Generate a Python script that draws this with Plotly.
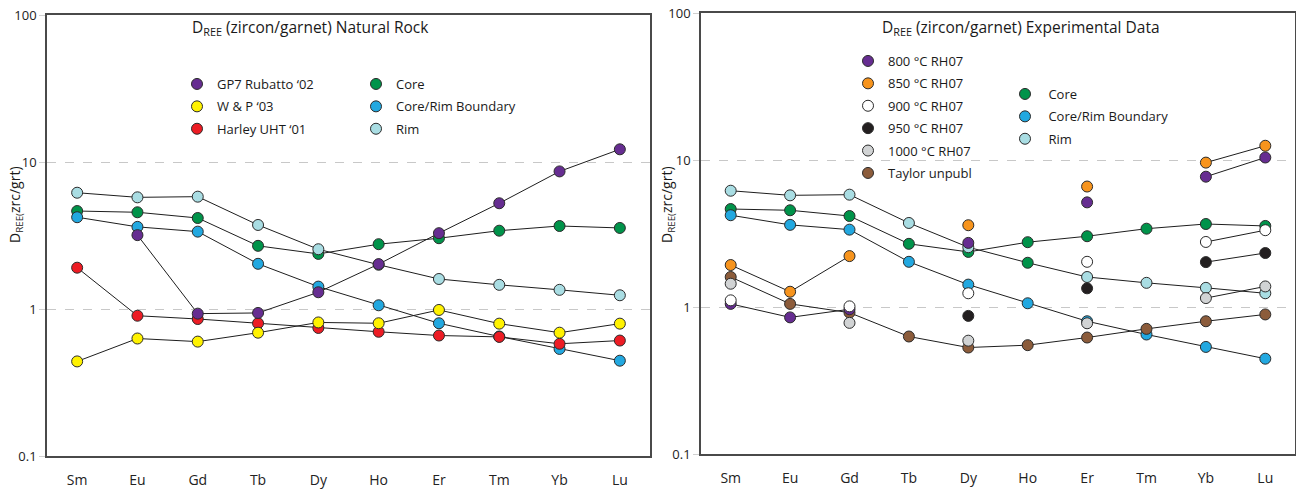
import plotly.graph_objects as go

W, H = 1296, 489

# ---------------- data ----------------
elements = ["Sm", "Eu", "Gd", "Tb", "Dy", "Ho", "Er", "Tm", "Yb", "Lu"]

# natural rock (left panel)
gp7_rubatto02 = [None, 3.18, 0.93, 0.94, 1.30, 2.02, 3.28, 5.24, 8.63, 12.2]
wp03 = [0.44, 0.63, 0.60, 0.69, 0.81, 0.80, 0.985, 0.795, 0.69, 0.795]
harley_uht01 = [1.91, 0.90, 0.855, 0.80, 0.743, 0.70, 0.66, 0.646, 0.58, 0.61]

# zircon zones (both panels)
core = [4.64, 4.55, 4.16, 2.69, 2.37, 2.76, 3.03, 3.41, 3.67, 3.56]
core_rim_boundary = [4.21, 3.62, 3.36, 2.03, 1.42, 1.06, 0.80, 0.65, 0.535, 0.445]
rim = [6.18, 5.75, 5.81, 3.73, 2.55, 2.00, 1.60, 1.46, 1.35, 1.24]

# experimental (right panel)
rh07_800 = [1.05, 0.85, 0.965, None, 2.73, None, 5.15, None, 7.7, 10.4]
rh07_850 = [1.93, 1.27, 2.22, None, 3.6, None, 6.6, None, 9.6, 12.5]
rh07_900 = [1.11, None, 1.01, None, 1.24, None, 2.03, None, 2.77, 3.33]
rh07_950 = [None, None, None, None, 0.87, None, 1.34, None, 2.02, 2.33]
rh07_1000 = [1.44, None, 0.78, None, 0.59, None, 0.775, None, 1.15, 1.38]
taylor_unpubl = [1.60, 1.05, 0.915, 0.63, 0.53, 0.55, 0.62, 0.71, 0.80, 0.89]

y_tickvals = [0.1, 1, 10, 100]
y_ticktext = ["0.1", "1", "10", "100"]

# ---------------- style ----------------
PURPLE = "#662d91"
YELLOW = "#fff200"
RED = "#ed1c24"
GREEN = "#00934a"
BLUE = "#22a8e0"
RIMC = "#a9dde3"
ORANGE = "#f7941d"
WHITE = "#ffffff"
BLACK = "#231f20"
GREY = "#d1d3d4"
BROWN = "#8c5c3b"
EDGE = "#2b2b2b"
FONT = "Open Sans"
MS = 11


def px(x):
    return x / W


def py(y):
    return 1 - y / H


fig = go.Figure()


def add_series(vals, color, xa, ya, colors=None):
    fig.add_trace(go.Scatter(
        x=elements, y=vals, mode="lines+markers", xaxis=xa, yaxis=ya,
        line=dict(color="#1e1e1e", width=1),
        marker=dict(size=MS, color=colors if colors else color,
                    line=dict(color=EDGE, width=1)),
        connectgaps=False, showlegend=False, hoverinfo="x+y"))


def add_legend_item(name, color, legend):
    fig.add_trace(go.Scatter(
        x=[None], y=[None], mode="markers", name=name, legend=legend,
        legendgroup=name, xaxis="x", yaxis="y",
        marker=dict(size=MS, color=color, line=dict(color=EDGE, width=1)),
        showlegend=True))


# left panel
add_series(core, GREEN, "x", "y")
add_series(core_rim_boundary, BLUE, "x", "y")
add_series(rim, RIMC, "x", "y")
add_series(harley_uht01, RED, "x", "y")
add_series(wp03, YELLOW, "x", "y")
add_series(gp7_rubatto02, PURPLE, "x", "y")

# right panel
add_series(core, GREEN, "x2", "y2")
add_series(core_rim_boundary, BLUE, "x2", "y2")
rim_right_colors = [RIMC] * len(elements)
rim_right_colors[5] = GREEN
add_series(rim, RIMC, "x2", "y2", colors=rim_right_colors)
add_series(taylor_unpubl, BROWN, "x2", "y2")
add_series(rh07_1000, GREY, "x2", "y2")
add_series(rh07_950, BLACK, "x2", "y2")
add_series(rh07_800, PURPLE, "x2", "y2")
add_series(rh07_850, ORANGE, "x2", "y2")
add_series(rh07_900, WHITE, "x2", "y2")

# legends
add_legend_item("GP7 Rubatto \u201802", PURPLE, "legend")
add_legend_item("W & P \u201803", YELLOW, "legend")
add_legend_item("Harley UHT \u201801", RED, "legend")
add_legend_item("Core", GREEN, "legend2")
add_legend_item("Core/Rim Boundary", BLUE, "legend2")
add_legend_item("Rim", RIMC, "legend2")
add_legend_item("800 \u00b0C RH07", PURPLE, "legend3")
add_legend_item("850 \u00b0C RH07", ORANGE, "legend3")
add_legend_item("900 \u00b0C RH07", WHITE, "legend3")
add_legend_item("950 \u00b0C RH07", BLACK, "legend3")
add_legend_item("1000 \u00b0C RH07", GREY, "legend3")
add_legend_item("Taylor unpubl", BROWN, "legend3")
add_legend_item(" Core", GREEN, "legend4")
add_legend_item(" Core/Rim Boundary", BLUE, "legend4")
add_legend_item(" Rim", RIMC, "legend4")

axis_common = dict(showline=True, mirror=True, linecolor="#4a4a4a", linewidth=1.5,
                   zeroline=False, fixedrange=True, automargin=False)
xcommon = dict(axis_common, type="category", range=[-0.5, 9.5], showgrid=False,
               ticks="outside", ticklen=10, tickcolor="rgba(0,0,0,0)",
               tickfont=dict(family=FONT, size=14, color="#222"))
ycommon = dict(axis_common, type="log", range=[-1, 2], tickvals=y_tickvals,
               ticktext=y_ticktext, showgrid=True, gridcolor="#c8c8c8",
               griddash="dash", gridwidth=1, ticks="outside", ticklen=6,
               tickcolor="#d0d0d0", tickfont=dict(family=FONT, size=13, color="#222"))

leg_common = dict(bgcolor="rgba(0,0,0,0)", borderwidth=0, xanchor="left",
                  yanchor="top", tracegroupgap=2.5, itemclick=False,
                  itemdoubleclick=False, font=dict(family=FONT, size=13, color="#1a1a1a"))

fig.update_layout(
    width=W, height=H,
    margin=dict(l=0, r=0, t=0, b=0, autoexpand=False),
    paper_bgcolor="white", plot_bgcolor="white",
    font=dict(family=FONT, color="#222"),
    xaxis=dict(xcommon, domain=[px(47), px(650)], anchor="y"),
    yaxis=dict(ycommon, domain=[py(456), py(15)], anchor="x"),
    xaxis2=dict(xcommon, domain=[px(701), px(1295)], anchor="y2"),
    yaxis2=dict(ycommon, domain=[py(454), py(13)], anchor="x2"),
    legend=dict(leg_common, x=px(177), y=py(69)),
    legend2=dict(leg_common, x=px(356), y=py(69)),
    legend3=dict(leg_common, x=px(848), y=py(46)),
    legend4=dict(leg_common, x=px(1005), y=py(79)),
    showlegend=True,
    annotations=[
        dict(text="D<sub>REE</sub> (zircon/garnet) Natural Rock", x=px(190), y=py(28),
             xref="paper", yref="paper", xanchor="left", yanchor="middle",
             showarrow=False, font=dict(family=FONT, size=15.5, color="#1a1a1a")),
        dict(text="D<sub>REE</sub> (zircon/garnet) Experimental Data", x=px(880), y=py(27),
             xref="paper", yref="paper", xanchor="left", yanchor="middle",
             showarrow=False, font=dict(family=FONT, size=15.5, color="#1a1a1a")),
        dict(text="D<sub>REE(</sub>zrc/grt)", x=px(15), y=py(205), textangle=-90,
             xref="paper", yref="paper", xanchor="center", yanchor="middle",
             showarrow=False, font=dict(family=FONT, size=14, color="#1a1a1a")),
        dict(text="D<sub>REE(</sub>zrc/grt)", x=px(667), y=py(205), textangle=-90,
             xref="paper", yref="paper", xanchor="center", yanchor="middle",
             showarrow=False, font=dict(family=FONT, size=14, color="#1a1a1a")),
    ],
)

fig.write_html("out.html", config={"displayModeBar": False},
               post_script="document.body.style.margin='0';")
